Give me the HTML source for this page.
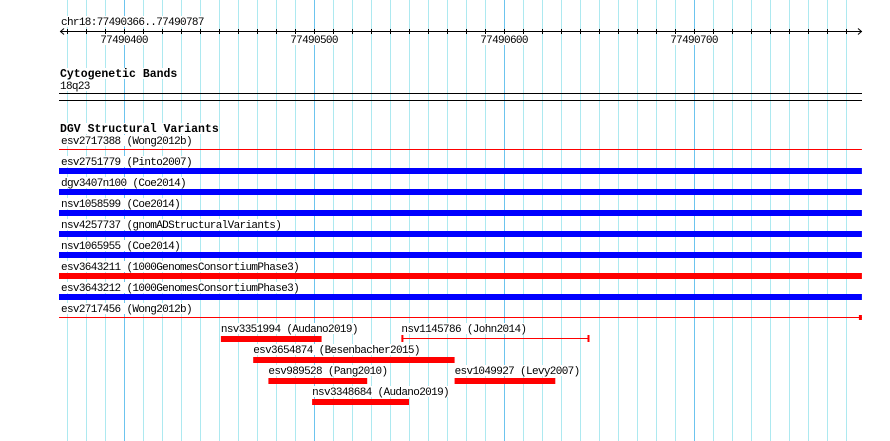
<!DOCTYPE html>
<html><head><meta charset="utf-8"><style>
html,body{margin:0;padding:0;background:#fff;}
svg{display:block;font-family:"Liberation Mono","DejaVu Sans Mono",monospace;}
</style></head><body>
<svg id="c" width="890" height="441" viewBox="0 0 890 441" xmlns="http://www.w3.org/2000/svg">
<rect width="890" height="441" fill="#fff"/>
</svg>
<script>
const regionStart = 77490366;
const regionEnd = 77490787;
const majorTicks = [77490400, 77490500, 77490600, 77490700];
const trackNames = ["esv2717388","esv2751779","dgv3407n100","nsv1058599","nsv4257737","nsv1065955","esv3643211","esv3643212","esv2717456"];
const trackStudies = ["Wong2012b","Pinto2007","Coe2014","Coe2014","gnomADStructuralVariants","Coe2014","1000GenomesConsortiumPhase3","1000GenomesConsortiumPhase3","Wong2012b"];
const trackColors = ["red","blue","blue","blue","blue","blue","red","blue","red"];
const trackThick = [0,1,1,1,1,1,1,1,0];
const trackEndMark = [0,0,0,0,0,0,0,0,1];
const extraNames = ["nsv3351994","nsv1145786","esv3654874","esv989528","esv1049927","nsv3348684"];
const extraStudies = ["Audano2019","John2014","Besenbacher2015","Pang2010","Levy2007","Audano2019"];
const extraStart = [77490451,77490546,77490468,77490476,77490574,77490499];
const extraEnd = [77490504,77490645,77490574,77490528,77490627,77490550];
const extraRow = [0,0,1,2,2,3];
const extraThin = [0,1,0,0,0,0];

const svg = document.getElementById('c');
const NS = 'http://www.w3.org/2000/svg';
const X0 = 59.4, PX = 1.9;
function xs(bp){ return X0 + (bp - regionStart) * PX; }
function mk(tag, attrs, name, parent){
  const e = document.createElementNS(NS, tag);
  for (const k in attrs) e.setAttribute(k, attrs[k]);
  
  
  (parent || svg).appendChild(e);
  return e;
}
function txt(x, y, s, name, opts){
  opts = opts || {};
  const fs = opts.fs || 11;
  const cw = opts.bold ? 6.9 : 5.95;
  const ls = cw - fs * 0.6;
  const w = s.length * cw;
  const ax = opts.anchor === 'middle' ? x - w/2 : x;
  if (opts.bg) mk('rect', {x: ax, y: y - 9, width: w, height: 11, fill: '#fff'}, name + '-bg');
  const t = mk('text', {x: ax, y: y, 'font-size': fs, fill: '#000', 'letter-spacing': ls, 'font-weight': opts.bold ? 'bold' : 'normal'}, name);
  t.textContent = s;
  return t;
}
// grid
const grid = mk('g', {}, 'grid');
for (let bp = Math.ceil(regionStart/10)*10; bp <= regionEnd; bp += 10) {
  const major = bp % 100 === 0;
  const x = Math.round(xs(bp)) + 0.5;
  mk('line', {x1: x, x2: x, y1: 0, y2: 441, stroke: major ? '#6cc4ee' : '#ade9f0', 'stroke-width': 1}, major ? 'major-grid-line' : 'minor-grid-line', grid);
}
// ruler
txt(61, 25, 'chr18:' + regionStart + '..' + regionEnd, 'region-label', {bg: true});
mk('line', {x1: 60, x2: 862, y1: 31.5, y2: 31.5, stroke: '#000'}, 'ruler-line');
mk('path', {d: 'M64,28.5 L60.5,31.5 L64,34.5', fill: 'none', stroke: '#000'}, 'ruler-left-arrow');
mk('path', {d: 'M858,28.5 L861.5,31.5 L858,34.5', fill: 'none', stroke: '#000'}, 'ruler-right-arrow');
for (let bp = Math.ceil(regionStart/10)*10; bp <= regionEnd; bp += 10) {
  const x = Math.round(xs(bp)) + 0.5;
  mk('line', {x1: x, x2: x, y1: 29, y2: 34, stroke: '#000'}, 'ruler-tick');
}
majorTicks.forEach(function(bp){ txt(xs(bp), 43, String(bp), 'tick-label', {anchor: 'middle', bg: true}); });
// cytogenetic bands
txt(60, 77, 'Cytogenetic Bands', 'cytoband-track-title', {bold: true, fs: 11.5, bg: true});
txt(60, 89, '18q23', 'cytoband-label', {bg: true});
const cb = mk('g', {}, 'cytoband-18q23');
mk('rect', {x: 59, y: 93, width: 803, height: 1, fill: '#000'}, 'cytoband-top-edge', cb);
mk('rect', {x: 59, y: 100, width: 803, height: 1, fill: '#000'}, 'cytoband-bottom-edge', cb);
// DGV
txt(60, 132, 'DGV Structural Variants', 'dgv-track-title', {bold: true, fs: 11.5, bg: true});
const x1 = xs(regionStart) - 0.4, x2 = xs(regionEnd) + 2.6;
trackNames.forEach(function(n, i){
  const base = 144 + i * 21;
  txt(61, base, n + ' (' + trackStudies[i] + ')', 'variant-label-' + n, {bg: true});
  const col = trackColors[i] === 'red' ? '#ff0000' : '#0000ff';
  if (trackThick[i]) mk('rect', {x: x1, y: base + 3, width: x2 - x1, height: 6, fill: col}, 'variant-bar-' + n);
  else mk('rect', {x: x1, y: base + 5, width: x2 - x1, height: 1, fill: col}, 'variant-line-' + n);
  if (trackEndMark[i]) mk('rect', {x: x2 - 3, y: base + 3, width: 3, height: 5, fill: col}, 'variant-end-' + n);
});
extraNames.forEach(function(n, i){
  const base = 332 + extraRow[i] * 21;
  const a = xs(extraStart[i]), b = xs(extraEnd[i]);
  txt(a, base, n + ' (' + extraStudies[i] + ')', 'variant-label-' + n, {bg: true});
  if (extraThin[i]) {
    mk('rect', {x: a, y: base + 6, width: b - a, height: 1, fill: '#ff0000'}, 'variant-line-' + n);
    mk('rect', {x: a, y: base + 3, width: 2, height: 7, fill: '#ff0000'}, 'variant-start-' + n);
    mk('rect', {x: b - 2, y: base + 3, width: 2, height: 7, fill: '#ff0000'}, 'variant-end-' + n);
  } else {
    mk('rect', {x: a, y: base + 4, width: b - a, height: 6, fill: '#ff0000'}, 'variant-bar-' + n);
  }
});
</script>
</body></html>
